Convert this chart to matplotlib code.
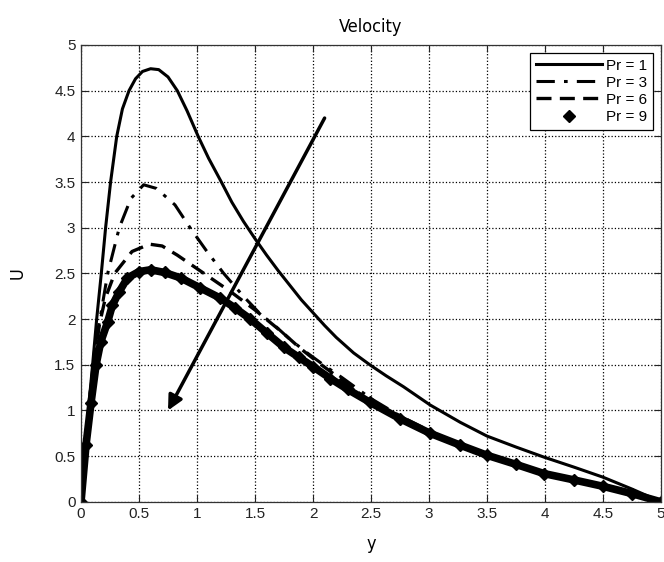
import matplotlib
matplotlib.use("Agg")
import matplotlib.pyplot as plt

plt.rcParams["font.family"] = ["Liberation Sans", "DejaVu Sans"]

# velocity profiles U(y) for different Prandtl numbers
y_pr1 = [0, 0.034, 0.063, 0.1, 0.135, 0.175, 0.212, 0.255, 0.308, 0.357, 0.414,
         0.47, 0.53, 0.6, 0.67, 0.75, 0.83, 0.914, 1.01, 1.1, 1.21, 1.3, 1.4,
         1.5, 1.6, 1.7, 1.8, 1.9, 2.0, 2.1, 2.2, 2.35, 2.49, 2.63, 2.78, 3.01,
         3.27, 3.5, 3.75, 3.99, 4.25, 4.5, 4.75, 5.0]
u_pr1 = [0, 0.5, 1.0, 1.5, 2.0, 2.5, 3.0, 3.5, 4.0, 4.3, 4.5,
         4.63, 4.71, 4.74, 4.73, 4.65, 4.5, 4.28, 4.0, 3.76, 3.5, 3.28, 3.07,
         2.88, 2.7, 2.53, 2.37, 2.21, 2.07, 1.93, 1.8, 1.63, 1.5, 1.38, 1.26, 1.06,
         0.87, 0.72, 0.6, 0.49, 0.38, 0.27, 0.14, 0.0]

y_pr3 = [0, 0.04, 0.08, 0.12, 0.17, 0.23, 0.33, 0.43, 0.54, 0.65, 0.81, 0.94,
         1.08, 1.23, 1.4, 1.55, 1.67, 1.8, 1.95, 2.1, 2.25, 2.5, 2.75, 3.0,
         3.25, 3.5, 3.75, 4.0, 4.25, 4.5, 4.75, 5.0]
u_pr3 = [0, 0.6, 1.2, 1.7, 2.05, 2.5, 3.0, 3.32, 3.47, 3.43, 3.25, 3.0,
         2.75, 2.5, 2.25, 2.05, 1.93, 1.78, 1.63, 1.49, 1.36, 1.13, 0.94, 0.78,
         0.63, 0.51, 0.41, 0.32, 0.24, 0.17, 0.09, 0.0]

y_pr6 = [0, 0.04, 0.08, 0.12, 0.16, 0.21, 0.29, 0.44, 0.59, 0.7, 0.83, 1.06,
         1.29, 1.5, 1.74, 1.89, 2.05, 2.2, 2.49, 2.75, 3.01, 3.27, 3.5, 3.75,
         3.99, 4.25, 4.5, 4.75, 5.0]
u_pr6 = [0, 0.6, 1.15, 1.6, 1.95, 2.23, 2.5, 2.74, 2.82, 2.8, 2.7, 2.5,
         2.3, 2.1, 1.85, 1.68, 1.52, 1.38, 1.1, 0.92, 0.76, 0.62, 0.51, 0.41,
         0.31, 0.24, 0.17, 0.09, 0.0]

y_pr9 = [0, 0.043, 0.086, 0.13, 0.17, 0.23, 0.27, 0.33, 0.4, 0.5, 0.6, 0.72,
         0.86, 1.03, 1.2, 1.33, 1.46, 1.6, 1.75, 1.88, 2.0, 2.15, 2.3, 2.49,
         2.75, 3.01, 3.27, 3.5, 3.75, 3.99, 4.25, 4.5, 4.75, 5.0]
u_pr9 = [0, 0.62, 1.08, 1.5, 1.75, 1.97, 2.15, 2.3, 2.45, 2.52, 2.54, 2.51,
         2.45, 2.34, 2.23, 2.12, 2.0, 1.85, 1.69, 1.58, 1.48, 1.35, 1.23, 1.09,
         0.91, 0.75, 0.62, 0.51, 0.41, 0.31, 0.24, 0.17, 0.09, 0.0]

ticks = [0, 0.5, 1, 1.5, 2, 2.5, 3, 3.5, 4, 4.5, 5]
tick_labels = ["0", "0.5", "1", "1.5", "2", "2.5", "3", "3.5", "4", "4.5", "5"]

# arrow showing increasing Pr
arrow_from = (2.1, 4.2)
arrow_to = (0.75, 1.0)

fig = plt.figure(figsize=(6.64, 5.62), dpi=100)
ax = fig.add_axes([0.122, 0.107, 0.8735, 0.813])

ax.plot(y_pr1, u_pr1, "k-", lw=2.2, label="Pr = 1")
ax.plot(y_pr3, u_pr3, "k-.", lw=2.2, dashes=(6, 3, 1.2, 3), label="Pr = 3")
ax.plot(y_pr6, u_pr6, "k--", lw=2.4, dashes=(4.5, 2.5), label="Pr = 6")
ax.plot(y_pr9, u_pr9, "k-", lw=5.5, solid_capstyle="round",
        solid_joinstyle="round")
ax.plot(y_pr9, u_pr9, "kD", ms=6, ls="none", label="Pr = 9")

ax.annotate("", xy=arrow_to, xytext=arrow_from,
            arrowprops=dict(arrowstyle="-|>", color="k", lw=2.5,
                            mutation_scale=22, shrinkA=0, shrinkB=0))

ax.set_xlim(0, 5)
ax.set_ylim(0, 5)
ax.set_xticks(ticks)
ax.set_xticklabels(tick_labels)
ax.set_yticks(ticks)
ax.set_yticklabels(tick_labels)
ax.tick_params(direction="in", top=True, right=True, length=5,
               labelsize=11, pad=4, colors="#222222")
ax.grid(True, ls=":", color="k", lw=0.9)
for s in ax.spines.values():
    s.set_linewidth(0.9)
    s.set_color("#333333")

narrow = dict(family=["DejaVu Sans"], fontstretch="condensed", fontsize=13)
ax.set_title("Velocity", pad=9, **narrow)
ax.set_xlabel("y", labelpad=10, **narrow)
ax.set_ylabel("U", labelpad=20, **narrow)

leg = ax.legend(loc="upper right", fontsize=11, handlelength=4.3,
                handletextpad=0.3, labelspacing=0.2, borderaxespad=0.5,
                fancybox=False, framealpha=1, edgecolor="k", borderpad=0.4)
leg.get_frame().set_linewidth(0.9)

fig.savefig("out.png", dpi=100)
